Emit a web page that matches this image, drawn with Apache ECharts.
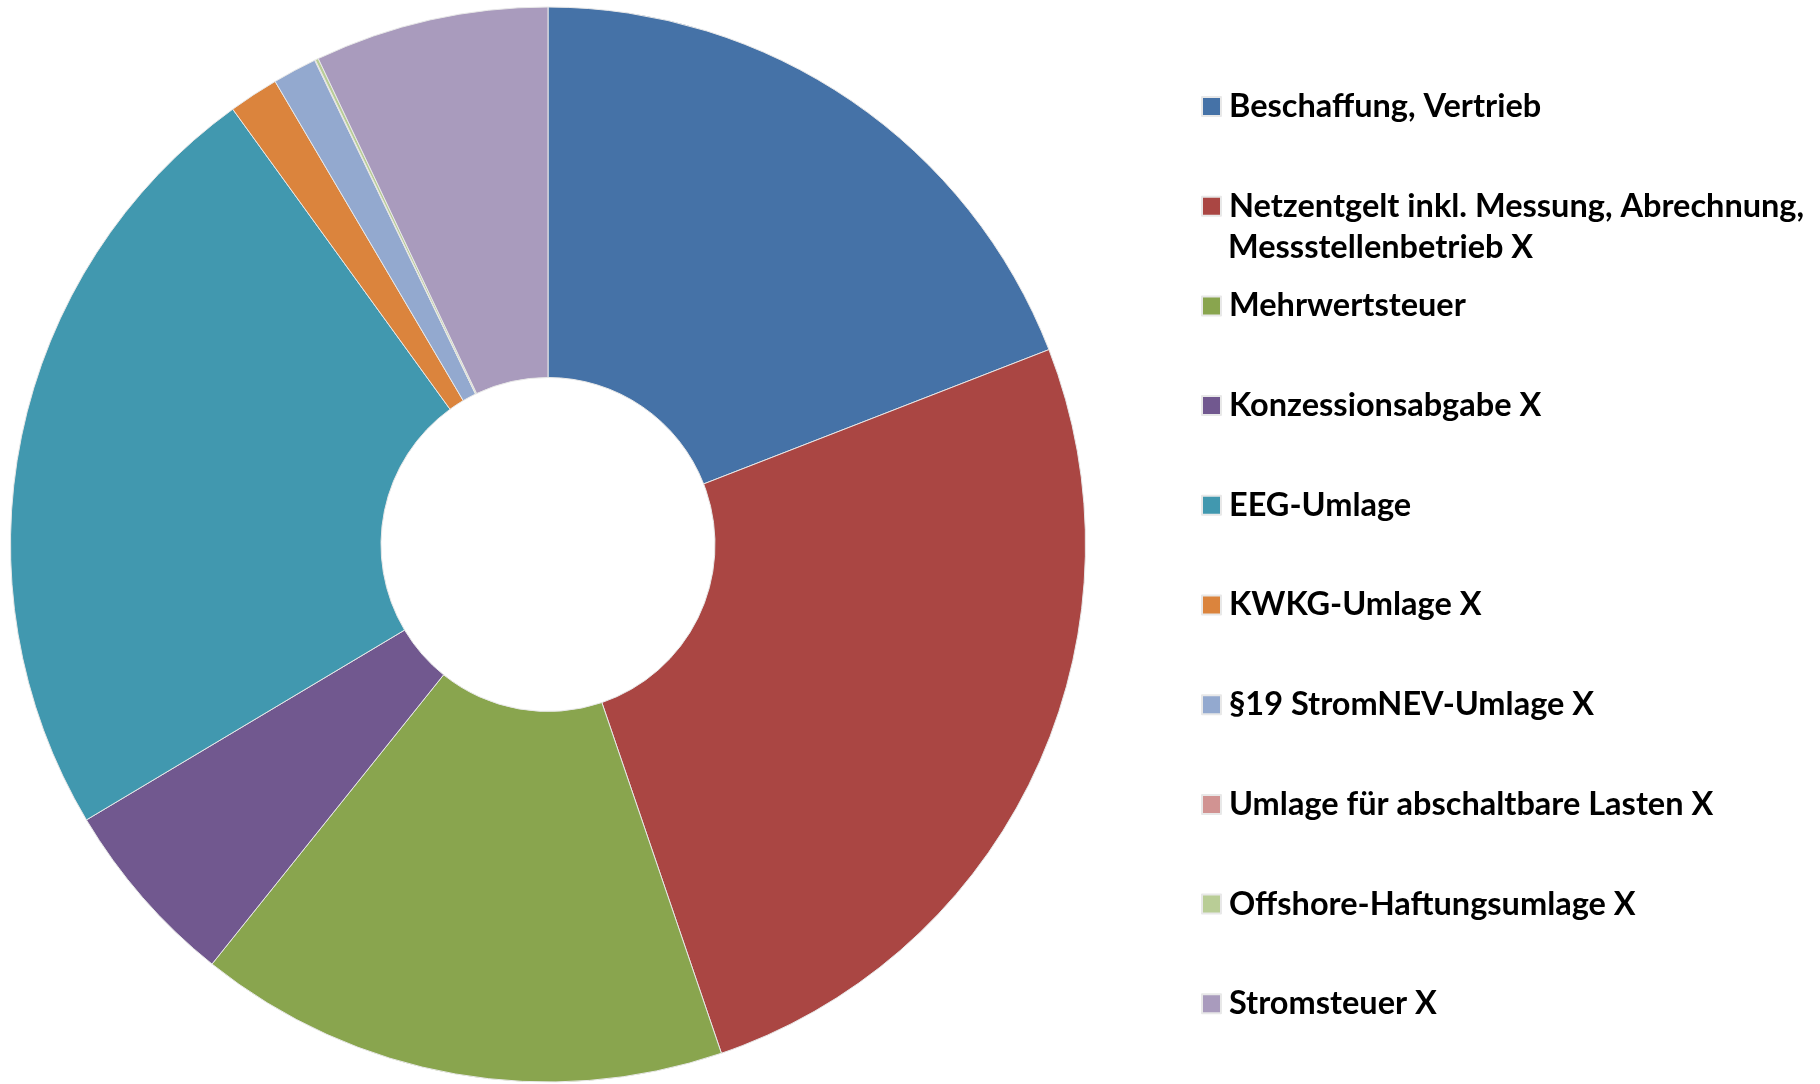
<!DOCTYPE html>
<html>
<head>
<meta charset="utf-8">
<title>Strompreis Bestandteile</title>
<script src="https://cdn.jsdelivr.net/npm/echarts@6/dist/echarts.min.js"></script>
<style>
    html, body { margin: 0; padding: 0; background: #fff; }
    #main { width: 1820px; height: 1084px; }
</style>
</head>
<body>
<div id="main"></div>
<script>
// Bestandteile (ct/kWh)
var names = [
    'Beschaffung, Vertrieb',
    'Netzentgelt inkl. Messung, Abrechnung,',
    'Mehrwertsteuer',
    'Konzessionsabgabe X',
    'EEG-Umlage',
    'KWKG-Umlage X',
    '§19 StromNEV-Umlage X',
    'Umlage für abschaltbare Lasten X',
    'Offshore-Haftungsumlage X',
    'Stromsteuer X'
];
var values = [5.57, 7.49, 4.66, 1.66, 6.88, 0.438, 0.388, 0.006, 0.028, 2.05];
var colors = ['#4572A7', '#AA4643', '#89A54E', '#71588F', '#4198AF',
              '#DB843D', '#93A9CF', '#D19392', '#B9CD96', '#A99BBD'];
// zweite Zeile des Netzentgelt-Eintrags
var netzLine2 = 'Messstellenbetrieb X';

var font = 'Lato, "Open Sans", sans-serif';

var chart = echarts.init(document.getElementById('main'));

var pieData = names.map(function (n, i) {
    return { name: n, value: values[i], itemStyle: { color: colors[i] } };
});

var option = {
    animation: false,
    backgroundColor: '#fff',
    color: colors,
    legend: {
        orient: 'vertical',
        left: 1201,
        top: 88.5,
        padding: 0,
        itemWidth: 19,
        itemHeight: 19,
        itemGap: 63.7,
        icon: 'rect',
        selectedMode: false,
        textStyle: {
            fontFamily: font,
            fontWeight: 'bold',
            fontSize: 32.5,
            lineHeight: 36,
            color: '#000',
            padding: [0, 0, 0, 3]
        },
        data: names
    },
    graphic: [{
        type: 'text',
        x: 1228,
        y: 248,
        style: {
            text: netzLine2,
            font: 'bold 32.5px ' + font,
            fill: '#000',
            verticalAlign: 'middle'
        }
    }],
    series: [{
        type: 'pie',
        center: [548, 544.5],
        radius: [167, 537.5],
        startAngle: 90,
        clockwise: true,
        minAngle: 0,
        avoidLabelOverlap: false,
        label: { show: false },
        labelLine: { show: false },
        emphasis: { disabled: true },
        itemStyle: {
            borderColor: '#e8e8e8',
            borderWidth: 1
        },
        data: pieData
    }]
};

chart.setOption(option);
</script>
</body>
</html>
